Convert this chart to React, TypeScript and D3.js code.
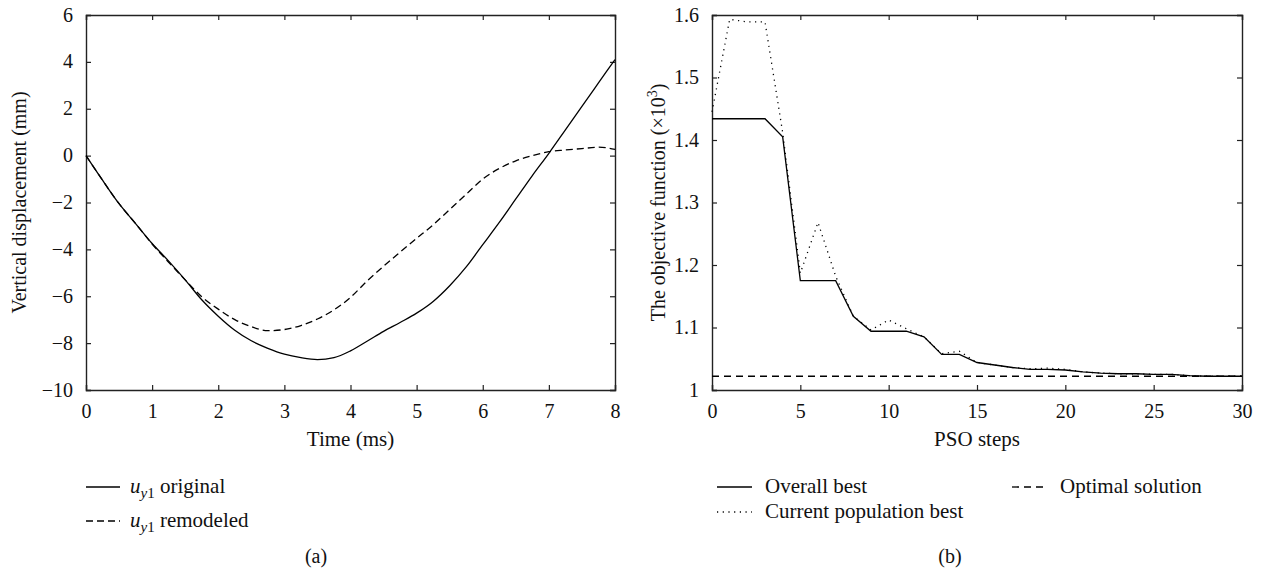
import React, { useEffect, useRef } from "react";
import * as d3 from "d3";

// ---------- Data: panel (a) ----------
const timeMs = [0, 0.25, 0.5, 0.75, 1, 1.25, 1.5, 1.75, 2, 2.25, 2.5, 2.75, 3, 3.25, 3.5, 3.75, 4, 4.25, 4.5, 4.75, 5, 5.25, 5.5, 5.75, 6, 6.25, 6.5, 6.75, 7, 7.25, 7.5, 7.75, 8];
const uOriginal = [0, -1.05, -2.05, -2.9, -3.75, -4.5, -5.3, -6.15, -6.85, -7.45, -7.9, -8.22, -8.47, -8.62, -8.7, -8.62, -8.33, -7.92, -7.5, -7.12, -6.72, -6.22, -5.55, -4.75, -3.8, -2.85, -1.85, -0.85, 0.1, 1.1, 2.1, 3.1, 4.1];
const uRemodeled = [0, -1.05, -2.05, -2.9, -3.77, -4.55, -5.3, -6.02, -6.55, -7.0, -7.3, -7.47, -7.42, -7.25, -6.97, -6.58, -6.05, -5.35, -4.72, -4.12, -3.53, -2.95, -2.3, -1.65, -1.0, -0.55, -0.22, 0.0, 0.17, 0.24, 0.3, 0.36, 0.27];
const timeTicks = [0, 1, 2, 3, 4, 5, 6, 7, 8];
const dispTicks = [6, 4, 2, 0, -2, -4, -6, -8, -10];

// ---------- Data: panel (b) ----------
const psoSteps = d3.range(0, 31);
const overallBest = [1.434, 1.434, 1.434, 1.434, 1.405, 1.175, 1.175, 1.175, 1.118, 1.094, 1.094, 1.094, 1.085, 1.057, 1.057, 1.044, 1.04, 1.036, 1.033, 1.033, 1.032, 1.029, 1.027, 1.026, 1.026, 1.025, 1.025, 1.023, 1.022, 1.022, 1.022];
const populationBest = [1.445, 1.593, 1.589, 1.589, 1.412, 1.187, 1.268, 1.182, 1.118, 1.096, 1.112, 1.098, 1.085, 1.058, 1.062, 1.044, 1.04, 1.036, 1.034, 1.035, 1.033, 1.029, 1.027, 1.026, 1.026, 1.025, 1.025, 1.023, 1.022, 1.022, 1.022];
const optimalSolution = 1.022;
const stepTicks = [0, 5, 10, 15, 20, 25, 30];
const objTicks = [1, 1.1, 1.2, 1.3, 1.4, 1.5, 1.6];

const FONT = "'Liberation Serif', 'Times New Roman', serif";
const AXIS_COLOR = "#222";
const TICK_FS = 20;
const LABEL_FS = 21;

function drawFrame(
  g: d3.Selection<SVGGElement, unknown, null, undefined>,
  x: d3.ScaleLinear<number, number>,
  y: d3.ScaleLinear<number, number>,
  xTicks: number[],
  yTicks: number[],
  xFmt: (v: number) => string,
  yFmt: (v: number) => string
) {
  const [x0, x1] = x.range();
  const [y0, y1] = y.range(); // y0 bottom, y1 top
  const tl = 5;
  const bottom = g.append("g").attr("transform", `translate(0,${y0})`).call(
    d3.axisBottom(x).tickValues(xTicks).tickSize(-tl).tickPadding(10).tickFormat((d) => xFmt(d as number))
  );
  const left = g.append("g").attr("transform", `translate(${x0},0)`).call(
    d3.axisLeft(y).tickValues(yTicks).tickSize(-tl).tickPadding(13).tickFormat((d) => yFmt(d as number))
  );
  const top = g.append("g").attr("transform", `translate(0,${y1})`).call(
    d3.axisTop(x).tickValues(xTicks).tickSize(-tl).tickFormat(() => "")
  );
  const right = g.append("g").attr("transform", `translate(${x1},0)`).call(
    d3.axisRight(y).tickValues(yTicks).tickSize(-tl).tickFormat(() => "")
  );
  [bottom, left, top, right].forEach((a) => {
    a.select(".domain").attr("stroke", AXIS_COLOR).attr("stroke-width", 1.4);
    a.selectAll(".tick line").attr("stroke", AXIS_COLOR).attr("stroke-width", 1.2);
    a.selectAll("text").attr("font-family", FONT).attr("font-size", TICK_FS).attr("fill", "#111");
  });
  bottom.selectAll(".tick text").attr("dy", "0.9em");
  left.selectAll(".tick text").attr("dy", "0.3em");
}

export default function App() {
  const ref = useRef<SVGSVGElement | null>(null);

  useEffect(() => {
    const svg = d3.select(ref.current as SVGSVGElement);
    svg.selectAll("*").remove();

    // ---------- Panel (a) ----------
    const ga = svg.append("g");
    const xa = d3.scaleLinear().domain([0, 8]).range([86, 615]);
    const ya = d3.scaleLinear().domain([-10, 6]).range([390, 15]);
    drawFrame(ga, xa, ya, timeTicks, dispTicks, (v) => String(v), (v) => (v < 0 ? "\u2212" + Math.abs(v) : String(v)));

    const lineA = d3
      .line<number>()
      .x((_, i) => xa(timeMs[i]))
      .curve(d3.curveMonotoneX);
    ga.append("path")
      .attr("d", lineA.y((d) => ya(d))(uRemodeled))
      .attr("fill", "none")
      .attr("stroke", "#000")
      .attr("stroke-width", 1.3)
      .attr("stroke-dasharray", "7 4");
    ga.append("path")
      .attr("d", lineA.y((d) => ya(d))(uOriginal))
      .attr("fill", "none")
      .attr("stroke", "#000")
      .attr("stroke-width", 1.3);

    ga.append("text")
      .attr("x", (xa(0) + xa(8)) / 2)
      .attr("y", 446)
      .attr("text-anchor", "middle")
      .attr("font-family", FONT)
      .attr("font-size", LABEL_FS)
      .attr("fill", "#111")
      .text("Time (ms)");
    ga.append("text")
      .attr("transform", `translate(26,${(ya(6) + ya(-10)) / 2}) rotate(-90)`)
      .attr("text-anchor", "middle")
      .attr("font-family", FONT)
      .attr("font-size", 20)
      .attr("fill", "#111")
      .text("Vertical displacement (mm)");

    // legend (a)
    const legA = [
      { label: "original", dash: null as string | null, y: 487 },
      { label: "remodeled", dash: "7 4", y: 521 },
    ];
    legA.forEach((l) => {
      ga.append("line")
        .attr("x1", 86).attr("x2", 120).attr("y1", l.y).attr("y2", l.y)
        .attr("stroke", "#000").attr("stroke-width", 1.3)
        .attr("stroke-dasharray", l.dash);
      const t = ga.append("text")
        .attr("x", 130).attr("y", l.y + 6)
        .attr("font-family", FONT).attr("font-size", LABEL_FS).attr("fill", "#111");
      t.append("tspan").attr("font-style", "italic").text("u");
      t.append("tspan").attr("font-style", "italic").attr("font-size", 15).attr("dy", 5).text("y");
      t.append("tspan").attr("font-size", 15).text("1");
      t.append("tspan").attr("dy", -5).text(" " + l.label);
    });
    ga.append("text")
      .attr("x", 316).attr("y", 563).attr("text-anchor", "middle")
      .attr("font-family", FONT).attr("font-size", 20).attr("fill", "#111")
      .text("(a)");

    // ---------- Panel (b) ----------
    const gb = svg.append("g");
    const xb = d3.scaleLinear().domain([0, 30]).range([712, 1242]);
    const yb = d3.scaleLinear().domain([1, 1.6]).range([390, 15]);
    drawFrame(gb, xb, yb, stepTicks, objTicks, (v) => String(v), (v) => (v === 1 ? "1" : d3.format(".1f")(v)));

    const lineB = d3.line<number>().x((_, i) => xb(psoSteps[i])).y((d) => yb(d));
    gb.append("path")
      .attr("d", lineB(populationBest))
      .attr("fill", "none").attr("stroke", "#000").attr("stroke-width", 1.3)
      .attr("stroke-dasharray", "1.2 4.5");
    gb.append("path")
      .attr("d", lineB(overallBest))
      .attr("fill", "none").attr("stroke", "#000").attr("stroke-width", 1.3);
    gb.append("line")
      .attr("x1", xb(0)).attr("x2", xb(30))
      .attr("y1", yb(optimalSolution)).attr("y2", yb(optimalSolution))
      .attr("stroke", "#000").attr("stroke-width", 1.3).attr("stroke-dasharray", "7 5");

    gb.append("text")
      .attr("x", (xb(0) + xb(30)) / 2).attr("y", 446).attr("text-anchor", "middle")
      .attr("font-family", FONT).attr("font-size", LABEL_FS).attr("fill", "#111")
      .text("PSO steps");
    const yt = gb.append("text")
      .attr("transform", `translate(665,${(yb(1) + yb(1.6)) / 2}) rotate(-90)`)
      .attr("text-anchor", "middle")
      .attr("font-family", FONT).attr("font-size", 20).attr("fill", "#111");
    yt.append("tspan").text("The objective function (\u00d710");
    yt.append("tspan").attr("font-size", 14).attr("dy", -8).text("3");
    yt.append("tspan").attr("dy", 8).text(")");

    const legB = [
      { label: "Overall best", dash: null as string | null, x: 717, y: 487 },
      { label: "Current population best", dash: "1.2 4.5", x: 717, y: 512 },
      { label: "Optimal solution", dash: "7 5", x: 1012, y: 487 },
    ];
    legB.forEach((l) => {
      gb.append("line")
        .attr("x1", l.x).attr("x2", l.x + 35).attr("y1", l.y).attr("y2", l.y)
        .attr("stroke", "#000").attr("stroke-width", 1.3)
        .attr("stroke-dasharray", l.dash);
      gb.append("text")
        .attr("x", l.x + 48).attr("y", l.y + 6)
        .attr("font-family", FONT).attr("font-size", LABEL_FS).attr("fill", "#111")
        .text(l.label);
    });
    gb.append("text")
      .attr("x", 950).attr("y", 563).attr("text-anchor", "middle")
      .attr("font-family", FONT).attr("font-size", 20).attr("fill", "#111")
      .text("(b)");
  }, []);

  return (
    <svg
      ref={ref}
      width={1263}
      height={573}
      style={{ position: "absolute", left: 0, top: 0, background: "#fff" }}
    />
  );
}
